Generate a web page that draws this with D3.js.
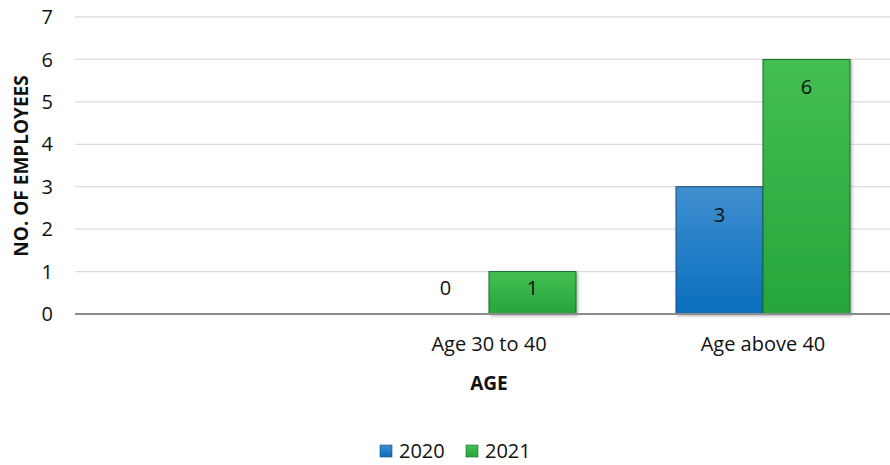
<!DOCTYPE html>
<html>
<head>
<meta charset="utf-8">
<script src="https://d3js.org/d3.v7.min.js"></script>
<style>
  body { margin: 0; background: #fff; }
  text { font-family: "Open Sans", "Noto Sans", sans-serif; }
</style>
</head>
<body>
<div id="vis"></div>
<script>
// chart data
var categories = ['', 'Age 30 to 40', 'Age above 40'];
var seriesNames = ['2020', '2021'];
var values2020 = [null, 0, 3];
var values2021 = [null, 1, 6];
var yTicks = [0, 1, 2, 3, 4, 5, 6, 7];

var width = 890;
var height = 465;
var margin = { top: 17, left: 78, bottom: 151, right: -10 };

var svg = d3.select('#vis').append('svg')
  .attr('width', width)
  .attr('height', height);

var defs = svg.append('defs');
var grads = [
  { id: 'g2020', top: '#3f8fd0', bottom: '#0a6ebd' },
  { id: 'g2021', top: '#44be52', bottom: '#25a63a' }
];
grads.forEach(function (g) {
  var lg = defs.append('linearGradient')
    .attr('id', g.id)
    .attr('x1', 0).attr('y1', 0).attr('x2', 0).attr('y2', 1);
  lg.append('stop').attr('offset', '0%').attr('stop-color', g.top);
  lg.append('stop').attr('offset', '100%').attr('stop-color', g.bottom);
});
var shadow = defs.append('filter').attr('id', 'shadow')
  .attr('x', '-10%').attr('y', '-10%').attr('width', '130%').attr('height', '130%');
shadow.append('feDropShadow')
  .attr('dx', 1.5).attr('dy', 1.5).attr('stdDeviation', 1.5)
  .attr('flood-color', '#000').attr('flood-opacity', 0.3);

var x0 = d3.scaleBand()
  .domain(categories)
  .range([margin.left, width - margin.right])
  .paddingInner(0.365)
  .paddingOuter(0.1825);

var x1 = d3.scaleBand()
  .domain(seriesNames)
  .range([0, x0.bandwidth()]);

var y = d3.scaleLinear()
  .domain([0, 7])
  .range([height - margin.bottom, margin.top]);

var g = svg.append('g');

// gridlines
g.selectAll('.grid').data(yTicks.slice(1)).enter()
  .append('line')
  .attr('class', 'grid')
  .attr('x1', margin.left - 3)
  .attr('x2', width)
  .attr('y1', function (d) { return y(d); })
  .attr('y2', function (d) { return y(d); })
  .attr('stroke', '#dcdcdc')
  .attr('stroke-width', 1.3);

// y tick labels
g.selectAll('.ytick').data(yTicks).enter()
  .append('text')
  .attr('class', 'ytick')
  .attr('x', 53)
  .attr('y', function (d) { return y(d); })
  .attr('dy', '0.36em')
  .attr('text-anchor', 'end')
  .style('font-size', '20px')
  .attr('fill', '#111')
  .text(function (d) { return d; });

// bars
var series = [
  { name: '2020', values: values2020, fill: 'url(#g2020)', stroke: '#1c4f7c' },
  { name: '2021', values: values2021, fill: 'url(#g2021)', stroke: '#1d6b2b' }
];

series.forEach(function (s) {
  var data = categories.map(function (c, i) { return { cat: c, v: s.values[i] }; })
    .filter(function (d) { return d.v !== null; });

  g.selectAll('.bar-' + s.name).data(data).enter()
    .append('rect')
    .attr('class', 'bar-' + s.name)
    .attr('x', function (d) { return x0(d.cat) + x1(s.name); })
    .attr('y', function (d) { return y(d.v); })
    .attr('width', x1.bandwidth())
    .attr('height', function (d) { return Math.max(y(0) - y(d.v), 0.5); })
    .attr('fill', s.fill)
    .attr('stroke', s.stroke)
    .attr('stroke-width', 1)
    .attr('filter', 'url(#shadow)');

  g.selectAll('.lbl-' + s.name).data(data).enter()
    .append('text')
    .attr('class', 'lbl-' + s.name)
    .attr('x', function (d) { return x0(d.cat) + x1(s.name) + x1.bandwidth() / 2; })
    .attr('y', function (d) { return Math.min(y(d.v) + 35, y(0) - 19); })
    .attr('text-anchor', 'middle')
    .style('font-size', '20px')
    .attr('fill', '#111')
    .text(function (d) { return d.v; });
});

// x axis line
g.append('line')
  .attr('x1', margin.left - 3)
  .attr('x2', width)
  .attr('y1', y(0))
  .attr('y2', y(0))
  .attr('stroke', '#8c8c8c')
  .attr('stroke-width', 2);

// category labels
g.selectAll('.xtick').data(categories).enter()
  .append('text')
  .attr('class', 'xtick')
  .attr('x', function (d) { return x0(d) + x0.bandwidth() / 2; })
  .attr('y', 351)
  .attr('text-anchor', 'middle')
  .style('font-size', '20px')
  .attr('fill', '#111')
  .text(function (d) { return d; });

// axis titles
g.append('text')
  .attr('x', x0('Age 30 to 40') + x0.bandwidth() / 2)
  .attr('y', 390)
  .attr('text-anchor', 'middle')
  .style('font-size', '19px')
  .style('font-weight', 'bold')
  .attr('fill', '#111')
  .text('AGE');

g.append('text')
  .attr('transform', 'translate(28,166) rotate(-90)')
  .attr('text-anchor', 'middle')
  .style('font-size', '19px')
  .style('font-weight', 'bold')
  .attr('fill', '#111')
  .text('NO. OF EMPLOYEES');

// legend
var legend = g.selectAll('.legend').data(series).enter()
  .append('g')
  .attr('class', 'legend')
  .attr('transform', function (d, i) { return 'translate(' + (380 + i * 86) + ',445)'; });

legend.append('rect')
  .attr('width', 12)
  .attr('height', 12)
  .attr('fill', function (d) { return d.fill; })
  .attr('stroke', function (d) { return d.stroke; })
  .attr('stroke-width', 0.6);

legend.append('text')
  .attr('x', 19)
  .attr('y', 13)
  .style('font-size', '20px')
  .attr('fill', '#111')
  .text(function (d) { return d.name; });
</script>
</body>
</html>
